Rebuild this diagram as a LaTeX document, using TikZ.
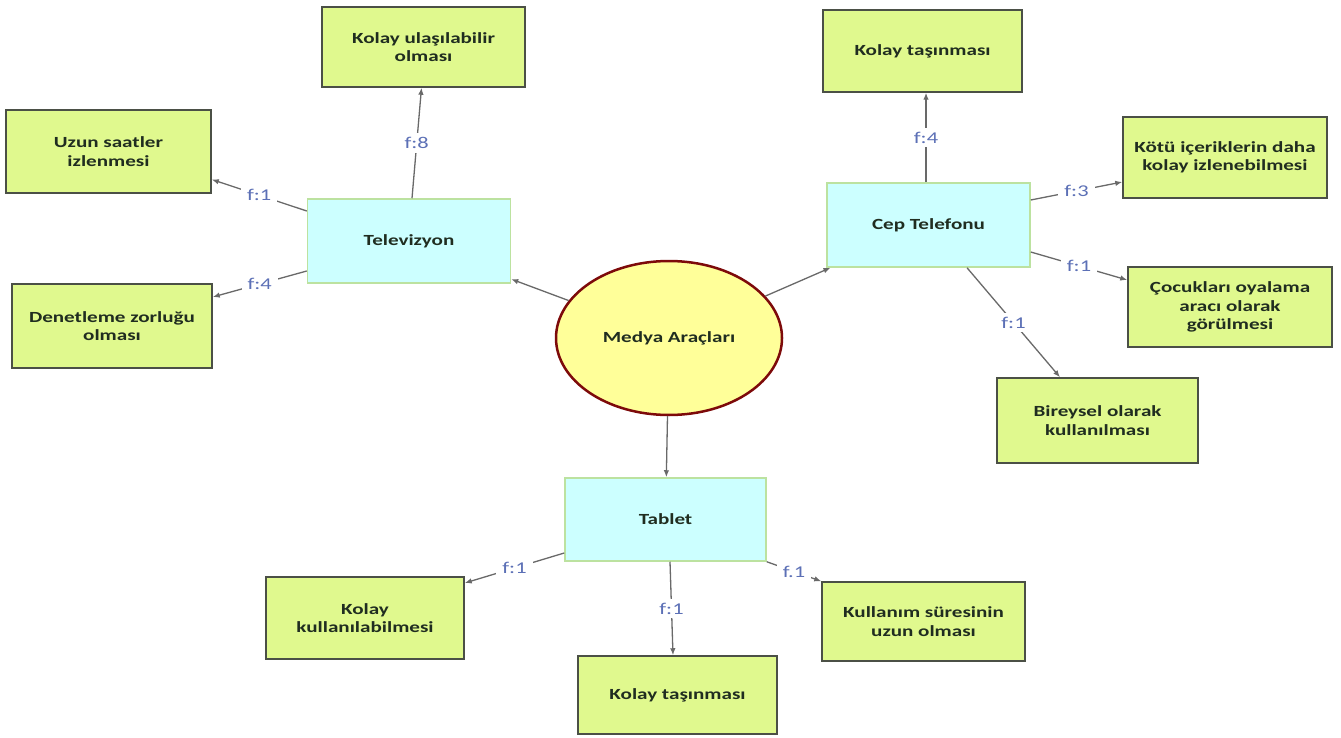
\documentclass[tikz,border=0pt]{standalone}
\usepackage{fontspec}
\setmainfont{Carlito}[FakeStretch=1.36]
\usetikzlibrary{shapes.geometric,arrows.meta,calc}
\definecolor{gfill}{RGB}{224,249,142}
\definecolor{gdraw}{RGB}{75,80,70}
\definecolor{bfill}{RGB}{204,255,255}
\definecolor{bdraw}{RGB}{188,226,160}
\definecolor{efill}{RGB}{255,255,153}
\definecolor{edraw}{RGB}{125,10,10}
\definecolor{lcol}{RGB}{105,105,105}
\definecolor{flab}{RGB}{92,112,182}
\definecolor{tcol}{RGB}{32,45,32}
\begin{document}
\begin{tikzpicture}[x=1pt,y=-1pt,
  every node/.style={font=\fontsize{15.5}{18.5}\selectfont\bfseries, text=tcol, align=center, inner sep=0pt},
  gbox/.style={draw=gdraw, fill=gfill, line width=1.5pt, minimum width=203pt, minimum height=82pt},
  bbox/.style={draw=bdraw, fill=bfill, line width=1.5pt, minimum width=203pt, minimum height=84pt},
  hub/.style={ellipse, draw=edraw, fill=efill, line width=2.5pt, minimum width=226pt, minimum height=154pt},
  conn/.style={draw=lcol, line width=1.3pt, -{Latex[length=7pt,width=5.5pt]}},
  flabel/.style={midway, fill=white, inner xsep=6pt, inner ysep=4pt, text=flab, font=\fontsize{16.5}{19}\selectfont}
]
\useasboundingbox (0,0) rectangle (1341,738);
\fill[white] (0,0) rectangle (1341,738);

% central
\node[hub] (el) at (669,338) {Medya Araçları};

% second level
\node[bbox] (tv)  at (409,241)   {Televizyon};
\node[bbox] (cep) at (928.5,225) {Cep Telefonu};
\node[bbox, minimum width=201pt, minimum height=83pt] (tab) at (665.5,519.5) {Tablet};

% Televizyon leaves
\node[gbox, minimum height=80pt] (ku)  at (423.5,47)  {Kolay ulaşılabilir\\olması};
\node[gbox, minimum width=205pt, minimum height=83pt] (us)  at (108.5,151.5) {Uzun saatler\\izlenmesi};
\node[gbox, minimum width=200pt, minimum height=84pt] (den) at (112,326)  {Denetleme zorluğu\\olması};

% Cep Telefonu leaves
\node[gbox, minimum width=199pt] (kt1)  at (922.5,51)   {Kolay taşınması};
\node[gbox, minimum width=204pt, minimum height=81pt] (kotu) at (1225,157.5) {Kötü içeriklerin daha\\kolay izlenebilmesi};
\node[gbox, minimum width=204pt, minimum height=80pt] (coc)  at (1230,307)   {Çocukları oyalama\\aracı olarak\\görülmesi};
\node[gbox, minimum width=201pt, minimum height=85pt] (bir)  at (1097.5,420.5) {Bireysel olarak\\kullanılması};

% Tablet leaves
\node[gbox, minimum width=198pt] (kkul) at (365,618)   {Kolay\\kullanılabilmesi};
\node[gbox, minimum width=199pt, minimum height=78pt] (kt2)  at (677.5,695) {Kolay taşınması};
\node[gbox, minimum height=79pt] (kus)  at (923.5,621.5) {Kullanım süresinin\\uzun olması};

% connectors from hub
\draw[conn] (el) -- (tv);
\draw[conn] (el) -- (cep);
\draw[conn] (el) -- (tab);

% Televizyon
\draw[conn] ([xshift=3pt]tv.north) -- node[flabel]{f:8} ([xshift=-2pt]ku.south);
\draw[conn] ([yshift=30pt]tv.west) -- node[flabel]{f:1} ([yshift=-28pt]us.east);
\draw[conn] ([yshift=-30pt]tv.west) -- node[flabel]{f:4} ([yshift=29pt]den.east);

% Cep Telefonu
\draw[conn] ([xshift=-2.5pt]cep.north) -- node[flabel]{f:4} ([xshift=3.5pt]kt1.south);
\draw[conn] ([yshift=25pt]cep.east) -- node[flabel]{f:3} ([yshift=-24.5pt]kotu.west);
\draw[conn] ([yshift=-27pt]cep.east) -- node[flabel]{f:1} ([yshift=27pt]coc.west);
\draw[conn] ([xshift=38.5pt]cep.south) -- node[flabel]{f:1} ([xshift=-37.5pt]bir.north);

% Tablet
\draw[conn] ([yshift=-33.5pt]tab.west) -- node[flabel]{f:1} ([yshift=35pt]kkul.east);
\draw[conn] ([xshift=4.5pt]tab.south) -- node[flabel]{f:1} ([xshift=-4.5pt]kt2.north);
\draw[conn] (tab.south east) -- node[flabel]{f.1} (kus.north west);
\end{tikzpicture}
\end{document}
